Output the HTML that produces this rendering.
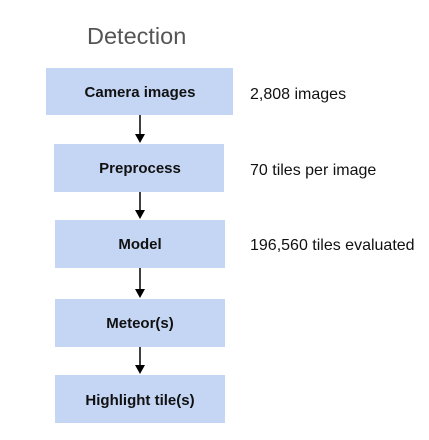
<!DOCTYPE html>
<html><head><style>
body{margin:0;width:429px;height:435px;background:#fff;overflow:hidden;font-family:"Liberation Sans",sans-serif}
</style></head><body>
<svg width="429" height="435" xmlns="http://www.w3.org/2000/svg" font-family="Liberation Sans, sans-serif">
<text x="87" y="44" font-size="23.5" fill="#555">Detection</text>
<rect x="46" y="68" width="187" height="47" fill="#c5d6f5"/>
<rect x="54" y="144" width="170" height="48" fill="#c5d6f5"/>
<rect x="55" y="220" width="170" height="48" fill="#c5d6f5"/>
<rect x="55" y="299" width="170" height="48" fill="#c5d6f5"/>
<rect x="55" y="375" width="170" height="48" fill="#c5d6f5"/>
<g font-size="15" font-weight="bold" fill="#111" text-anchor="middle">
<text x="140" y="97">Camera images</text>
<text x="140" y="173">Preprocess</text>
<text x="140" y="249">Model</text>
<text x="140" y="328">Meteor(s)</text>
<text x="140" y="405">Highlight tile(s)</text>
</g>
<g stroke="#000" stroke-width="1.5">
<line x1="140" y1="115" x2="140" y2="135"/>
<line x1="140" y1="192" x2="140" y2="211"/>
<line x1="140" y1="268" x2="140" y2="290"/>
<line x1="140" y1="347" x2="140" y2="366"/>
</g>
<g fill="#000">
<path d="M135,134 L145,134 L140,143 Z"/>
<path d="M135,210 L145,210 L140,219 Z"/>
<path d="M135,289 L145,289 L140,298 Z"/>
<path d="M135,365 L145,365 L140,374 Z"/>
</g>
<g font-size="16" fill="#111">
<text x="250" y="99">2,808 images</text>
<text x="250" y="175">70 tiles per image</text>
<text x="250" y="250">196,560 tiles evaluated</text>
</g>
</svg>
</body></html>
